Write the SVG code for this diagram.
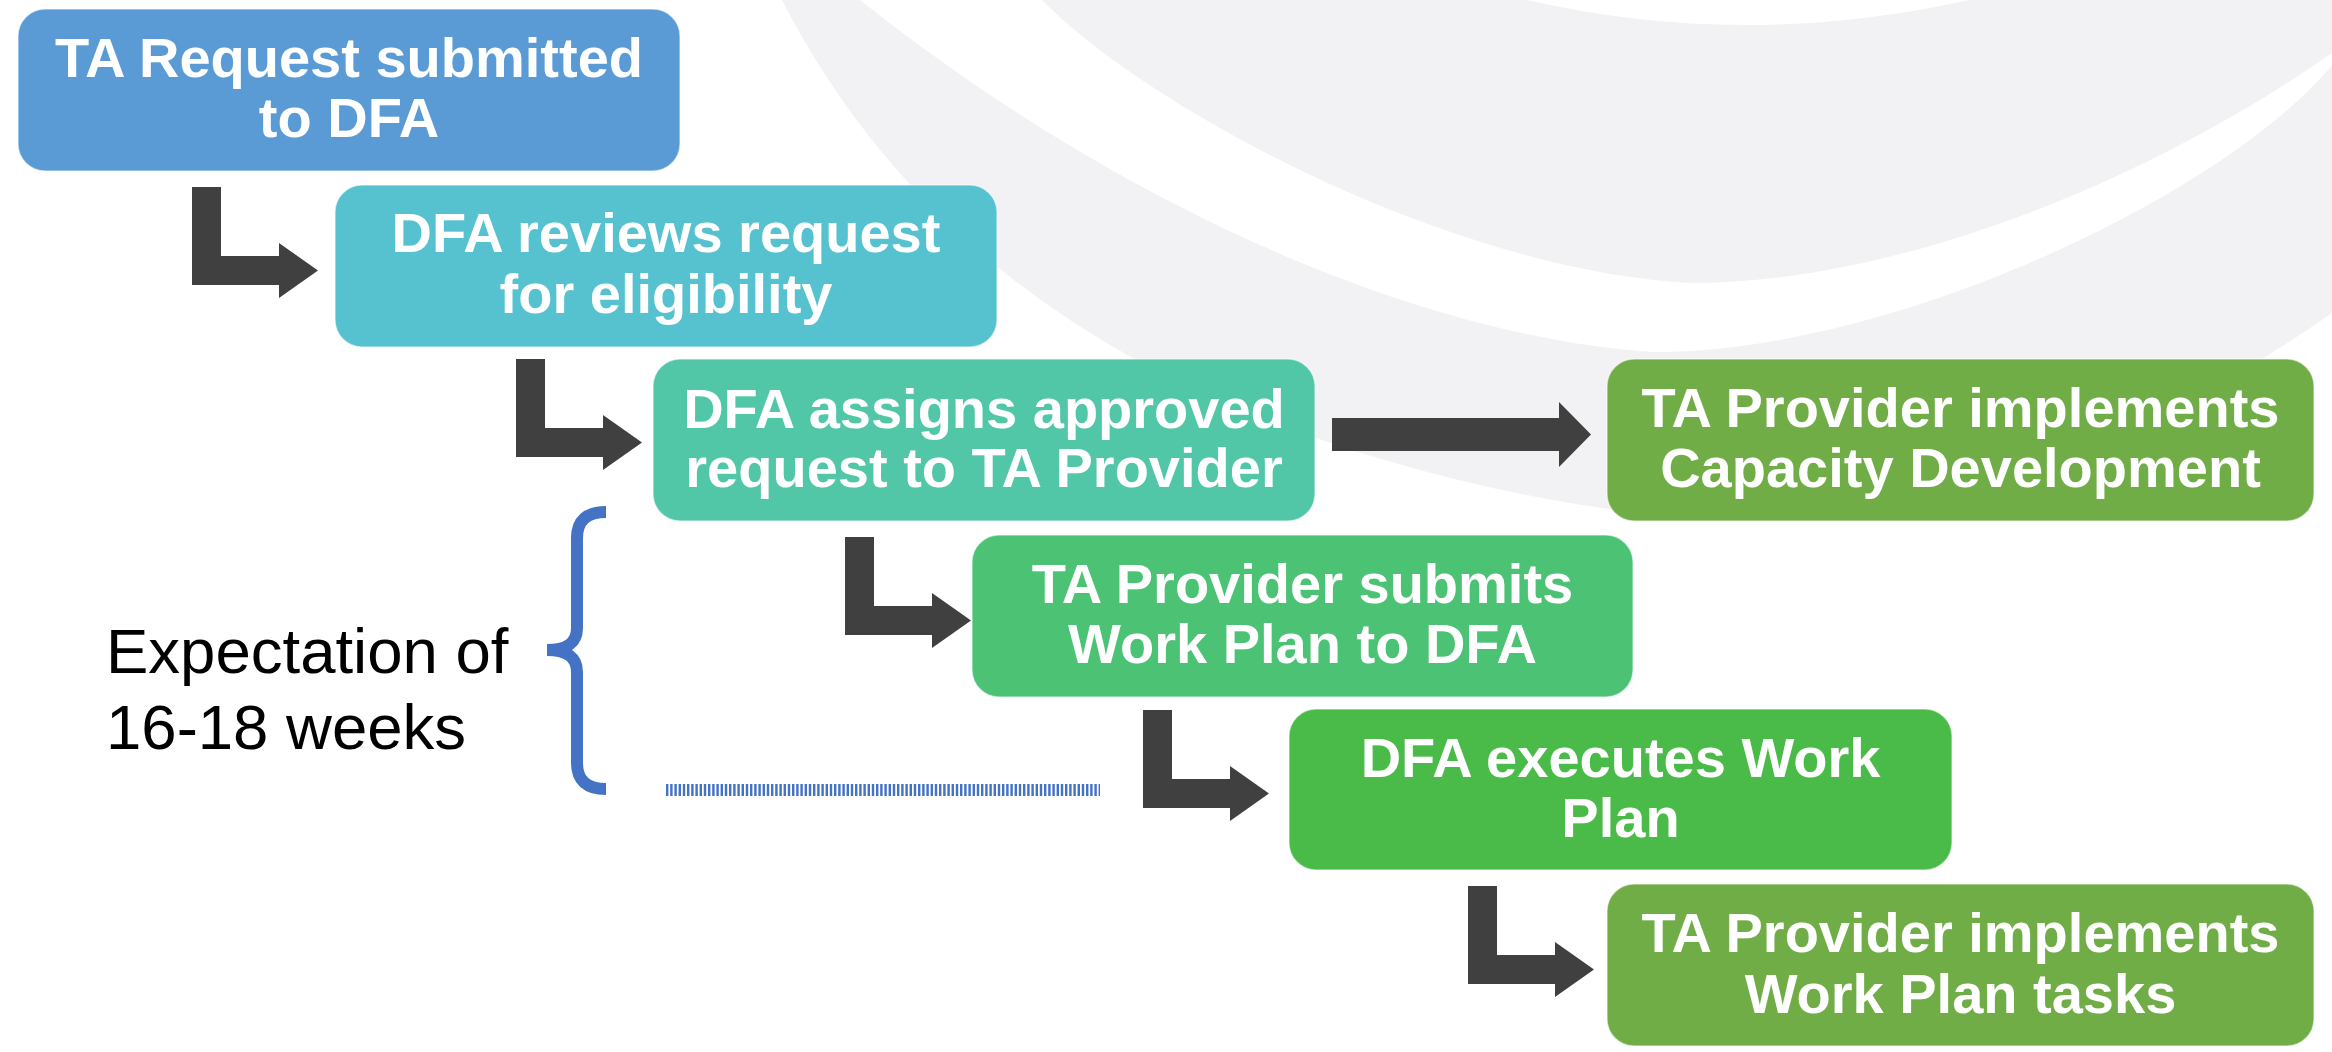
<svg xmlns="http://www.w3.org/2000/svg" width="2332" height="1052" viewBox="0 0 2332 1052">
<style>
.box{stroke:#ffffff;stroke-opacity:0.5;stroke-width:1.5}
.lbl{font-family:"Liberation Sans",Arial,sans-serif;font-weight:bold;font-size:56px;fill:#ffffff;text-anchor:middle}
.note{font-family:"Liberation Sans",Arial,sans-serif;font-size:63.5px;fill:#000000}
.arr{fill:#404040}
.bg{fill:#F2F2F4}
</style>
<defs>
<path id="elbow" d="M0,0 h29 v69 h58 v-13 l39,27.5 l-39,27.5 v-13 h-87 z"/>
</defs>
<rect width="2332" height="1052" fill="#ffffff"/>
<g id="background">
<path class="bg" d="M782,0 Q900,230 1136,360 C1300,450 1550,515 1720,518 C1950,520 2150,440 2332,313 L2332,65 C2230,190 1900,352 1654,352 C1450,340 1150,230 860,0 Z"/>
<path class="bg" d="M1042,0 C1150,110 1450,270 1690,283 C1900,283 2150,180 2332,53 L2332,0 Z"/>
<path fill="#ffffff" d="M1527,0 Q1745,50 1969,0 Z"/>
</g>
<g id="connectors">
<use href="#elbow" class="arr" x="192" y="187"/>
<use href="#elbow" class="arr" x="516" y="359"/>
<use href="#elbow" class="arr" x="845" y="537"/>
<use href="#elbow" class="arr" x="1143" y="710"/>
<use href="#elbow" class="arr" x="1468" y="886"/>
<path class="arr" d="M1332,418 H1559 V402 L1591,434.5 L1559,467 V451 H1332 Z"/>
</g>
<g id="n1">
<rect class="box" x="18" y="9" width="662" height="162" rx="27" fill="#5B9BD5"/>
<text class="lbl" x="349" y="77">TA Request submitted</text>
<text class="lbl" x="349" y="137">to DFA</text>
</g>
<g id="n2">
<rect class="box" x="335" y="185" width="662" height="162" rx="27" fill="#56C2CF"/>
<text class="lbl" x="666" y="252">DFA reviews request</text>
<text class="lbl" x="666" y="313">for eligibility</text>
</g>
<g id="n3">
<rect class="box" x="653" y="359" width="662" height="162" rx="27" fill="#52C7A8"/>
<text class="lbl" x="984" y="428">DFA assigns approved</text>
<text class="lbl" x="984" y="487">request to TA Provider</text>
</g>
<g id="n4">
<rect class="box" x="1607" y="359" width="707" height="162" rx="27" fill="#70AD47"/>
<text class="lbl" x="1960.5" y="427">TA Provider implements</text>
<text class="lbl" x="1960.5" y="487">Capacity Development</text>
</g>
<g id="n5">
<rect class="box" x="972" y="535" width="661" height="162" rx="27" fill="#4CC275"/>
<text class="lbl" x="1302.5" y="603">TA Provider submits</text>
<text class="lbl" x="1302.5" y="663">Work Plan to DFA</text>
</g>
<g id="n6">
<rect class="box" x="1289" y="709" width="663" height="161" rx="27" fill="#4ABB48"/>
<text class="lbl" x="1620.5" y="777">DFA executes Work</text>
<text class="lbl" x="1620.5" y="837">Plan</text>
</g>
<g id="n7">
<rect class="box" x="1607" y="884" width="707" height="162" rx="27" fill="#70AD47"/>
<text class="lbl" x="1960.5" y="952">TA Provider implements</text>
<text class="lbl" x="1960.5" y="1013">Work Plan tasks</text>
</g>
<g id="timeline">
<path d="M606,512 Q577,512 577,538 V628 Q577,650 547,650 Q577,650 577,672 V763 Q577,789 606,789" fill="none" stroke="#4472C4" stroke-width="12"/>
<line x1="666" y1="790" x2="1100" y2="790" stroke="#4472C4" stroke-width="12" stroke-dasharray="2.4 1.8"/>
<text class="note" x="106" y="673">Expectation of</text>
<text class="note" x="106" y="749">16-18 weeks</text>
</g>
</svg>
